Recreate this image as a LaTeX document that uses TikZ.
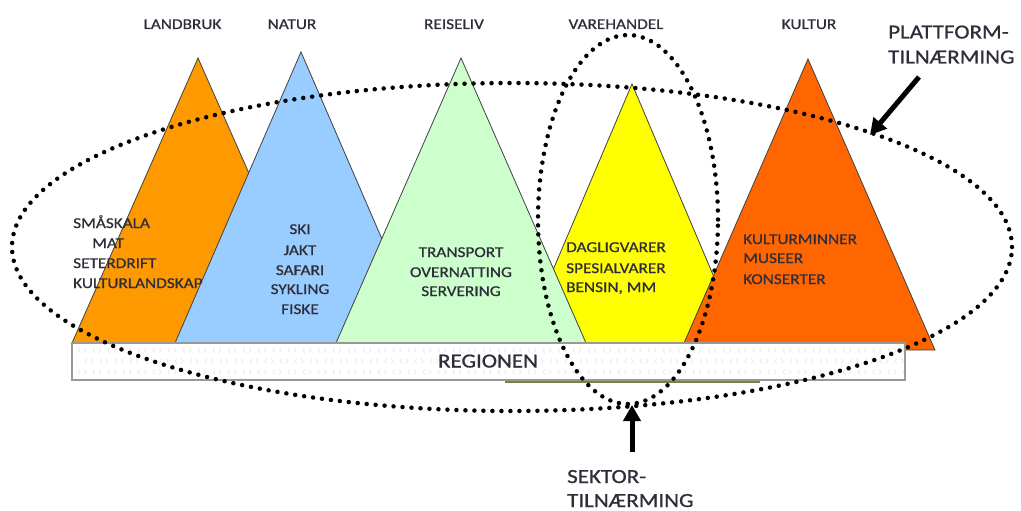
\documentclass[tikz,border=0pt]{standalone}
\usepackage{fontspec}
\setmainfont[FakeStretch=1.15, FakeBold=0.8]{Carlito}
\usetikzlibrary{arrows.meta}
\definecolor{cLand}{HTML}{FF9900}
\definecolor{cNatur}{HTML}{99CCFF}
\definecolor{cReise}{HTML}{CCFFCC}
\definecolor{cVare}{HTML}{FFFF00}
\definecolor{cKultur}{HTML}{FF6600}
\definecolor{txt}{HTML}{2E2E3A}
\definecolor{olive2}{HTML}{7F7F40}
\begin{document}
\begin{tikzpicture}[x=1pt,y=-1pt,
  tri/.style={draw=black!75, line width=0.8pt, line join=miter},
  lbl/.style={font=\fontsize{15}{15}\selectfont, text=txt, inner sep=0pt},
  biglbl/.style={font=\fontsize{20}{20}\selectfont, text=txt, inner sep=0pt},
  dots/.style={black, line width=4.5pt, dash pattern=on 0pt off 9pt, line cap=round},
  bigarrow/.style={black, line width=5pt, -{Triangle[length=16pt,width=17pt]}},
  chev/.style={gray!22, line width=0.5pt}]
\useasboundingbox (0,0) rectangle (1021,511);
% triangles
\draw[tri, fill=cLand] (198,58) -- (324,343) -- (72,343) -- cycle;
\draw[tri, fill=cNatur] (301,52) -- (427,343) -- (175,343) -- cycle;
\draw[tri, fill=cVare] (632,84) -- (742,343) -- (522,343) -- cycle;
\draw[tri, fill=cReise] (461,58) -- (586,343) -- (336,343) -- cycle;
\draw[tri, fill=cKultur] (808,59) -- (935,350) -- (681,350) -- cycle;
% region bar
\draw[draw=gray!80, line width=1.2pt, fill=white] (72,343) rectangle (905,380);
\begin{scope}
\clip (73,344) rectangle (904,379);
\foreach \i in {0,...,55} {
  \foreach \r in {0,1,2} {
    \pgfmathsetmacro{\xx}{78+\i*15+mod(\r,2)*7}
    \pgfmathsetmacro{\yy}{350+\r*11}
    \draw[chev] (\xx+2,\yy-2.5) -- (\xx,\yy) -- (\xx+2,\yy+2.5);
    \draw[chev] (\xx+6,\yy-2.5) -- (\xx+8,\yy) -- (\xx+6,\yy+2.5);
  }
}
\end{scope}
\draw[olive2, line width=2pt] (505,381.5) -- (760,381.5);
\node[biglbl, anchor=base] (region) at (488,367.5) {REGIONEN};
% top labels
\node[lbl, anchor=base] (tLand) at (182.5,29) {LANDBRUK};
\node[lbl, anchor=base] (tNatur) at (292,29) {NATUR};
\node[lbl, anchor=base] (tReise) at (454,29) {REISELIV};
\node[lbl, anchor=base] (tVare) at (616,29) {VAREHANDEL};
\node[lbl, anchor=base] (tKultur) at (809,29) {KULTUR};
% landbruk text
\node[lbl, anchor=base west] (l1) at (73,228) {SMÅSKALA};
\node[lbl, anchor=base west] (l2) at (92,248) {MAT};
\node[lbl, anchor=base west] (l3) at (73,268) {SETERDRIFT};
\node[lbl, anchor=base west] (l4) at (73,288) {KULTURLANDSKAP};
% natur text
\node[lbl, anchor=base] (n1) at (300,234) {SKI};
\node[lbl, anchor=base] (n2) at (300,255) {JAKT};
\node[lbl, anchor=base] (n3) at (300,275) {SAFARI};
\node[lbl, anchor=base] (n4) at (300,294) {SYKLING};
\node[lbl, anchor=base] (n5) at (300,314) {FISKE};
% reiseliv text
\node[lbl, anchor=base] (r1) at (461,257) {TRANSPORT};
\node[lbl, anchor=base] (r2) at (461,277) {OVERNATTING};
\node[lbl, anchor=base] (r3) at (461,296) {SERVERING};
% varehandel text
\node[lbl, anchor=base west] (v1) at (566,252) {DAGLIGVARER};
\node[lbl, anchor=base west] (v2) at (566,273) {SPESIALVARER};
\node[lbl, anchor=base west] (v3) at (566,292) {BENSIN, MM};
% kultur text
\node[lbl, anchor=base west] (k1) at (743,244) {KULTURMINNER};
\node[lbl, anchor=base west] (k2) at (743,263) {MUSEER};
\node[lbl, anchor=base west] (k3) at (743,284) {KONSERTER};
% ellipses
\draw[dots] (512,247) ellipse [x radius=500pt, y radius=164pt];
\draw[dots] (628,219.5) ellipse [x radius=90pt, y radius=184.5pt];
% side labels
\node[biglbl, anchor=base west] (p1) at (888,38.5) {PLATTFORM-};
\node[biglbl, anchor=base west] (p2) at (888,63.5) {TILNÆRMING};
\node[biglbl, anchor=base west] (s1) at (567,483) {SEKTOR-};
\node[biglbl, anchor=base west] (s2) at (567,507) {TILNÆRMING};
% arrows
\coordinate (pTail) at (919,77);
\coordinate (pTip) at (870,135);
\coordinate (sTail) at (632,452);
\coordinate (sTip) at (632,405);
\draw[bigarrow] (pTail) -- (pTip);
\draw[bigarrow] (sTail) -- (sTip);
\end{tikzpicture}
\end{document}
